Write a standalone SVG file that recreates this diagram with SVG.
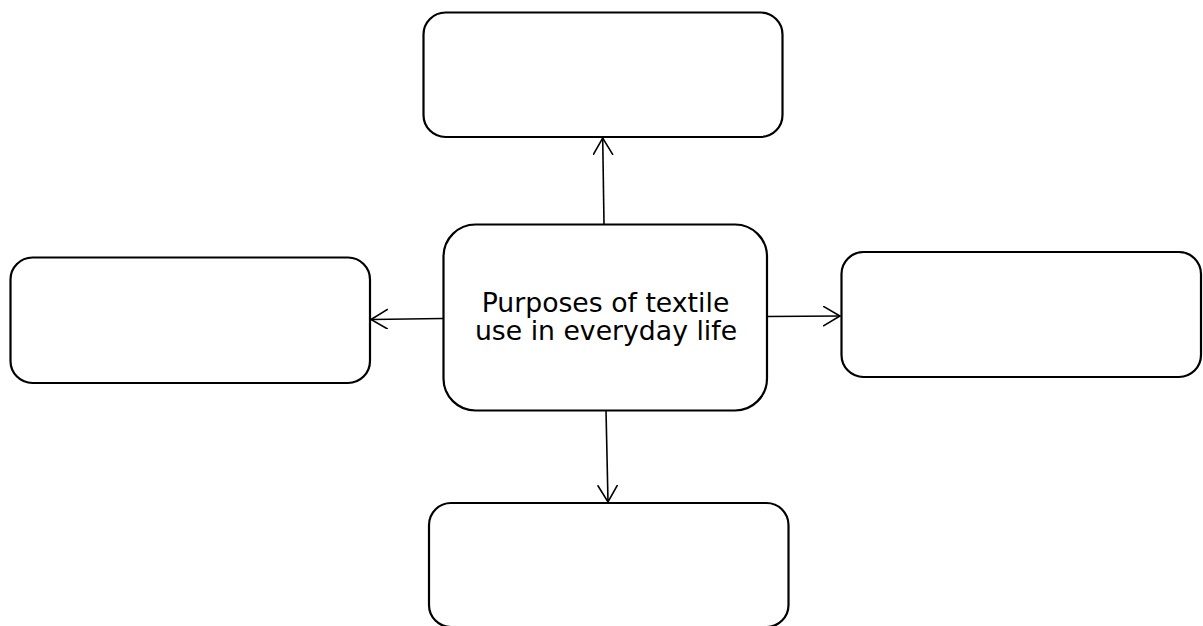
<svg xmlns="http://www.w3.org/2000/svg" width="1203" height="626" viewBox="0 0 1203 626">
<style>
.box{fill:#fff;stroke:#000;stroke-width:2.2}
.conn{fill:none;stroke:#000;stroke-width:1.6}
.label{font-family:"DejaVu Sans",Verdana,sans-serif;font-size:26.7px;fill:#000;text-anchor:middle}
</style>
<defs>
<marker id="arr" markerWidth="20" markerHeight="24" refX="17" refY="10" orient="auto" markerUnits="userSpaceOnUse" viewBox="0 0 20 24">
<path d="M0,0 L17,10 L0,20" fill="none" stroke="#000" stroke-width="1.6"/>
</marker>
</defs>
<rect width="1203" height="626" fill="#fff"/>
<g id="connectors">
<line class="conn" x1="604" y1="224" x2="602.7" y2="138" marker-end="url(#arr)"/>
<line class="conn" x1="443" y1="318.5" x2="371" y2="319.5" marker-end="url(#arr)"/>
<line class="conn" x1="767" y1="316.5" x2="840" y2="316" marker-end="url(#arr)"/>
<line class="conn" x1="606" y1="410" x2="608" y2="502" marker-end="url(#arr)"/>
</g>
<g id="node-top"><rect class="box" x="423.5" y="12.5" width="359" height="124.5" rx="22"/></g>
<g id="node-center"><rect class="box" x="443.5" y="224.5" width="323.5" height="186" rx="32"/>
<text class="label" x="605.5" y="312">Purposes of textile</text>
<text class="label" x="606" y="340">use in everyday life</text></g>
<g id="node-left"><rect class="box" x="10.5" y="257.5" width="359.5" height="125.5" rx="22"/></g>
<g id="node-right"><rect class="box" x="841.5" y="252" width="359.5" height="125" rx="22"/></g>
<g id="node-bottom"><rect class="box" x="429" y="503" width="359.5" height="124" rx="22"/></g>
</svg>
